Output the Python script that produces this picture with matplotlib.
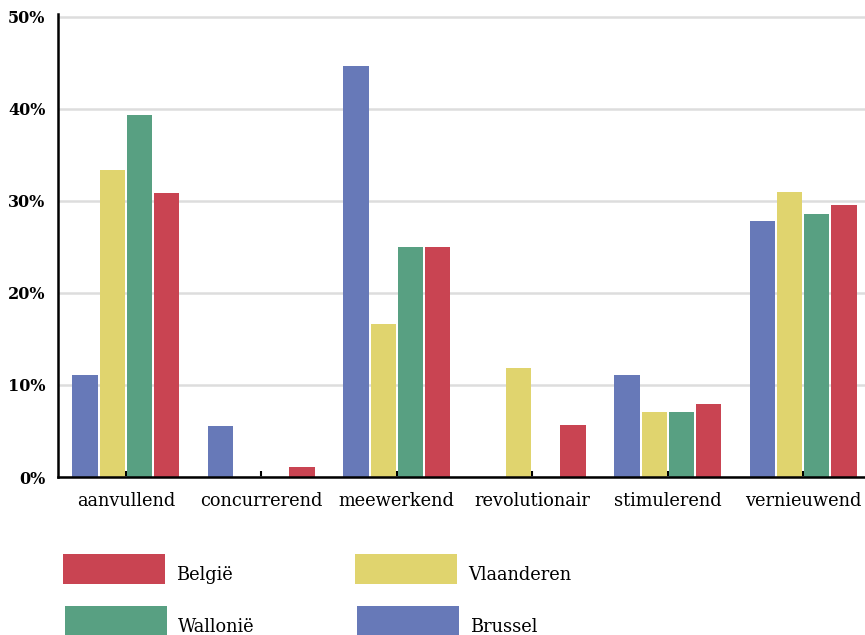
import matplotlib.pyplot as plt
from matplotlib.patches import Rectangle
import numpy as np

categories = ["aanvullend", "concurrerend", "meewerkend", "revolutionair", "stimulerend", "vernieuwend"]
series_names = ["Brussel", "Vlaanderen", "Wallonië", "België"]
brussel = [11.1, 5.5, 44.6, 0.0, 11.1, 27.8]
vlaanderen = [33.4, 0.0, 16.6, 11.8, 7.1, 31.0]
wallonie = [39.3, 0.0, 25.0, 0.0, 7.1, 28.6]
belgie = [30.8, 1.1, 25.0, 5.6, 7.9, 29.6]
y_ticks = [0, 10, 20, 30, 40, 50]

colors = {"Brussel": "#6779b8", "Vlaanderen": "#e0d46e", "Wallonië": "#58a082", "België": "#c94452"}
values = {"Brussel": brussel, "Vlaanderen": vlaanderen, "Wallonië": wallonie, "België": belgie}

plt.rcParams["font.family"] = "DejaVu Serif"

fig = plt.figure(figsize=(8.65, 6.35), dpi=100)
# the plot area runs a little past the right edge, as in the reference
ax = fig.add_axes([58 / 865, (635 - 477) / 635, 813 / 865, (477 - 14) / 635])

x = np.arange(len(categories))
offsets = [-0.3, -0.1, 0.1, 0.3]
for name, off in zip(series_names, offsets):
	ax.bar(x + off, values[name], width=0.186, color=colors[name], zorder=2)

ax.set_xlim(-0.5, len(categories) - 0.5)
ax.set_ylim(0, 50.3)
ax.set_yticks(y_ticks)
ax.set_yticklabels([f"{t}%" for t in y_ticks], fontweight="bold", fontsize=11.5)
ax.set_xticks(x)
ax.set_xticklabels(categories, fontsize=12.8)
ax.tick_params(axis="y", length=0, pad=9)
ax.tick_params(axis="x", direction="in", length=4.5, width=1.5, pad=10.5, color="black")

ax.grid(axis="y", color="#dddddd", linewidth=1.8, zorder=0)
ax.set_axisbelow(True)
for s in ["top", "right"]:
	ax.spines[s].set_visible(False)
for s in ["left", "bottom"]:
	ax.spines[s].set_linewidth(1.8)
	ax.spines[s].set_zorder(3)

# legend laid out as in the reference: two rows, two columns
legend_rows = [["België", "Vlaanderen"], ["Wallonië", "Brussel"]]
col_x = [63, 355]
row_y = [554, 606]
for r, row in enumerate(legend_rows):
	for c, name in enumerate(row):
		x0 = col_x[c] + (2 if r == 1 else 0)
		y0 = row_y[r]
		fig.add_artist(Rectangle((x0 / 865, 1 - (y0 + 30) / 635), 102 / 865, 30 / 635,
			transform=fig.transFigure, color=colors[name], lw=0))
		fig.text((x0 + 113) / 865, 1 - (y0 + 20.5) / 635, name, fontsize=12.8, va="center", ha="left")

fig.savefig("out.png", dpi=100)
